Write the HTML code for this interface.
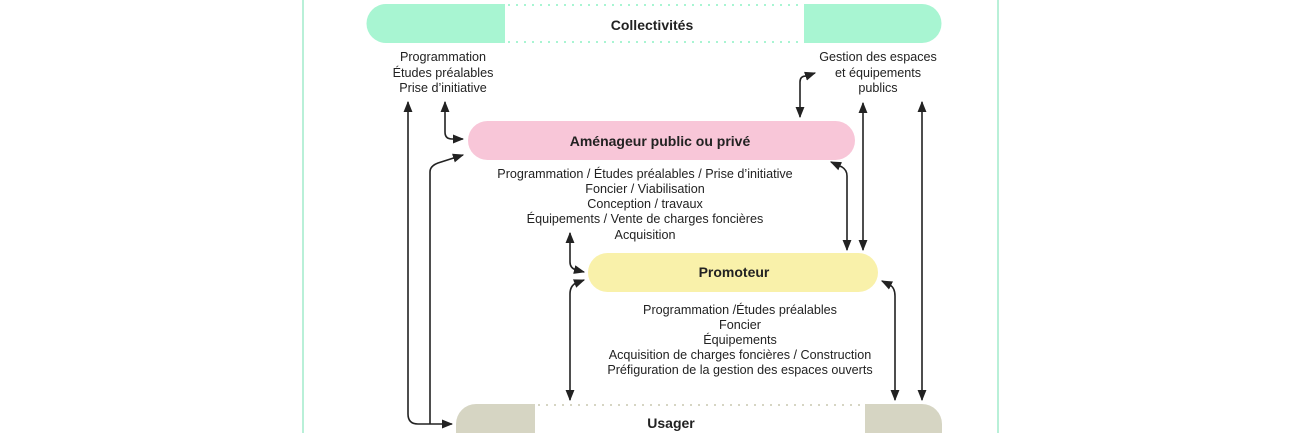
<!DOCTYPE html>
<html><head><meta charset="utf-8"><style>
html,body{margin:0;padding:0;background:#fff;}
svg{display:block;}
text{font-family:"Liberation Sans",sans-serif;fill:#222;}
.b{font-weight:bold;font-size:14px;}
.s{font-size:12.6px;}
</style></head><body>
<svg width="1300" height="433" viewBox="0 0 1300 433" xmlns="http://www.w3.org/2000/svg">
<defs>
<marker id="a" viewBox="0 0 10 10" refX="9" refY="5" markerWidth="7" markerHeight="7" orient="auto-start-reverse"><path d="M0,1 L10,5 L0,9 z" fill="#222"/></marker>
</defs>
<line x1="303" y1="0" x2="303" y2="433" stroke="#b9f0d8" stroke-width="2"/>
<line x1="998" y1="0" x2="998" y2="433" stroke="#b9f0d8" stroke-width="2"/>

<path d="M386,4 H505 V43 H386 A19.5,19.5 0 0 1 386,4 z" fill="#a8f5d2"/>
<path d="M804,4 H922 A19.5,19.5 0 0 1 922,43 H804 z" fill="#a8f5d2"/>
<line x1="508" y1="5" x2="804" y2="5" stroke="#a8f5d2" stroke-width="2" stroke-dasharray="2,6"/>
<line x1="508" y1="42" x2="804" y2="42" stroke="#a8f5d2" stroke-width="2" stroke-dasharray="2,6"/>
<text class="b" x="652" y="30" text-anchor="middle">Collectivités</text>

<g class="s" text-anchor="middle">
<text x="443" y="61">Programmation</text>
<text x="443" y="77">Études préalables</text>
<text x="443" y="92">Prise d’initiative</text>
<text x="878" y="61">Gestion des espaces</text>
<text x="878" y="77">et équipements</text>
<text x="878" y="92">publics</text>
</g>

<rect x="468" y="121" width="387" height="39" rx="19.5" fill="#f8c6d8"/>
<text class="b" x="660" y="146" text-anchor="middle">Aménageur public ou privé</text>
<g class="s" text-anchor="middle">
<text x="645" y="178">Programmation / Études préalables / Prise d’initiative</text>
<text x="645" y="193">Foncier / Viabilisation</text>
<text x="645" y="208">Conception / travaux</text>
<text x="645" y="223">Équipements  / Vente de charges foncières</text>
<text x="645" y="239">Acquisition</text>
</g>

<rect x="588" y="253" width="290" height="39" rx="19.5" fill="#f9f1aa"/>
<text class="b" x="734" y="277" text-anchor="middle">Promoteur</text>
<g class="s" text-anchor="middle">
<text x="740" y="314">Programmation /Études préalables</text>
<text x="740" y="329">Foncier</text>
<text x="740" y="344">Équipements</text>
<text x="740" y="359">Acquisition de charges foncières / Construction</text>
<text x="740" y="374">Préfiguration de la gestion des espaces ouverts</text>
</g>

<path d="M476,404 H535 V440 H456 V424 A20,20 0 0 1 476,404 z" fill="#d6d5c3"/>
<path d="M865,404 H922 A20,20 0 0 1 942,424 V440 H865 z" fill="#d6d5c3"/>
<line x1="538" y1="405" x2="865" y2="405" stroke="#d6d5c3" stroke-width="2" stroke-dasharray="2,6"/>
<text class="b" x="671" y="428" text-anchor="middle">Usager</text>

<g fill="none" stroke="#222" stroke-width="1.6">
<path d="M408,102 V414 Q408,424 418,424 H452" marker-start="url(#a)" marker-end="url(#a)"/>
<path d="M430,424 V172 Q430,166 438,163 L463,155" marker-end="url(#a)"/>
<path d="M445,102 V132 Q445,139 452,139 H463" marker-start="url(#a)" marker-end="url(#a)"/>
<path d="M800,117 V82 Q800,76 806,76 L815,73" marker-start="url(#a)" marker-end="url(#a)"/>
<path d="M847,250 V176 Q847,170 842,167 L831,162" marker-start="url(#a)" marker-end="url(#a)"/>
<path d="M863,250 V103" marker-start="url(#a)" marker-end="url(#a)"/>
<path d="M922,102 V400" marker-start="url(#a)" marker-end="url(#a)"/>
<path d="M570,233 V262 Q570,268 576,270 L584,272" marker-start="url(#a)" marker-end="url(#a)"/>
<path d="M570,400 V294 Q570,286 576,283 L584,280" marker-start="url(#a)" marker-end="url(#a)"/>
<path d="M895,400 V296 Q895,288 890,285 L882,281" marker-start="url(#a)" marker-end="url(#a)"/>
</g>
</svg>
</body></html>
